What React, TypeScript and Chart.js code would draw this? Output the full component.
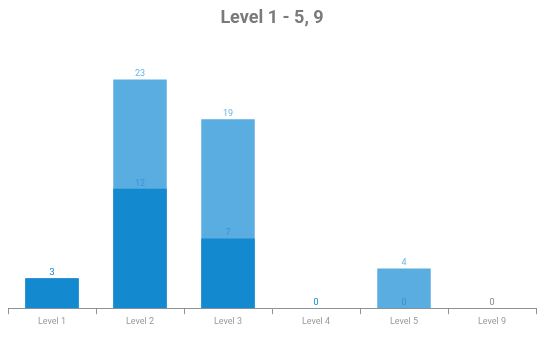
import React, { useEffect, useRef } from "react";
import { Chart, registerables } from "chart.js";

Chart.register(...registerables);

const categories = ["Level 1", "Level 2", "Level 3", "Level 4", "Level 5", "Level 9"];
const totalValues = [3, 23, 19, 0, 4, 0];
const partValues = [3, 12, 7, 0, 0, 0];
const titleText = "Level 1 - 5, 9";

const FONT = "Roboto, 'DejaVu Sans', sans-serif";

const valueLabels = {
  id: "valueLabels",
  afterDatasetsDraw(chart: any) {
    const ctx = chart.ctx;
    ctx.save();
    ctx.font = `9px ${FONT}`;
    ctx.textAlign = "center";
    ctx.textBaseline = "bottom";
    const order = [1, 0];
    for (const di of order) {
      const meta = chart.getDatasetMeta(di);
      const ds = chart.data.datasets[di];
      meta.data.forEach((bar: any, i: number) => {
        const v = ds.data[i];
        const colors = ds.labelColors;
        ctx.fillStyle = colors[i];
        ctx.fillText(String(v), bar.x, bar.y - 1);
      });
    }
    ctx.restore();
  },
};

export default function App() {
  const ref = useRef<HTMLCanvasElement>(null);
  useEffect(() => {
    if (!ref.current) return;
    const chart = new Chart(ref.current, {
      type: "bar",
      data: {
        labels: categories,
        datasets: [
          {
            label: "Part",
            data: partValues,
            backgroundColor: "#1389d0",
            labelColors: ["#3596d4", "#3596d4", "#3596d4", "#3596d4", "#3a8fcc", "#999999"],
            barPercentage: 0.76,
            categoryPercentage: 0.8,
          } as any,
          {
            label: "Total",
            data: totalValues,
            backgroundColor: "#5aade1",
            labelColors: ["#6bb5e3", "#6bb5e3", "#6bb5e3", "#6bb5e3", "#6bb5e3", "#aaaaaa"],
            barPercentage: 0.76,
            categoryPercentage: 0.8,
          } as any,
        ],
      },
      options: {
        animation: false,
        responsive: true,
        maintainAspectRatio: false,
        layout: { padding: { left: 0, right: 2, top: 0, bottom: 4 } },
        plugins: {
          legend: { display: false },
          tooltip: { enabled: false },
          title: {
            display: true,
            text: titleText,
            color: "#7a7a7a",
            font: { family: FONT, size: 18, weight: "bold" },
            padding: { top: 0, bottom: 30 },
          },
        },
        scales: {
          x: {
            stacked: true,
            grid: {
              display: true,
              drawOnChartArea: false,
              drawTicks: true,
              tickLength: 6,
              color: "#8a929a",
              offset: true,
            },
            border: { display: true, color: "#8a929a", width: 1 },
            ticks: {
              color: "#999999",
              font: { family: FONT, size: 9 },
              padding: 2,
            },
          },
          y: {
            display: false,
            stacked: false,
            min: 0,
            max: 25,
          },
        },
      },
      plugins: [valueLabels],
    });
    return () => chart.destroy();
  }, []);
  return (
    <div style={{ width: 530, height: 325, position: "relative" }}>
      <canvas ref={ref} />
    </div>
  );
}
